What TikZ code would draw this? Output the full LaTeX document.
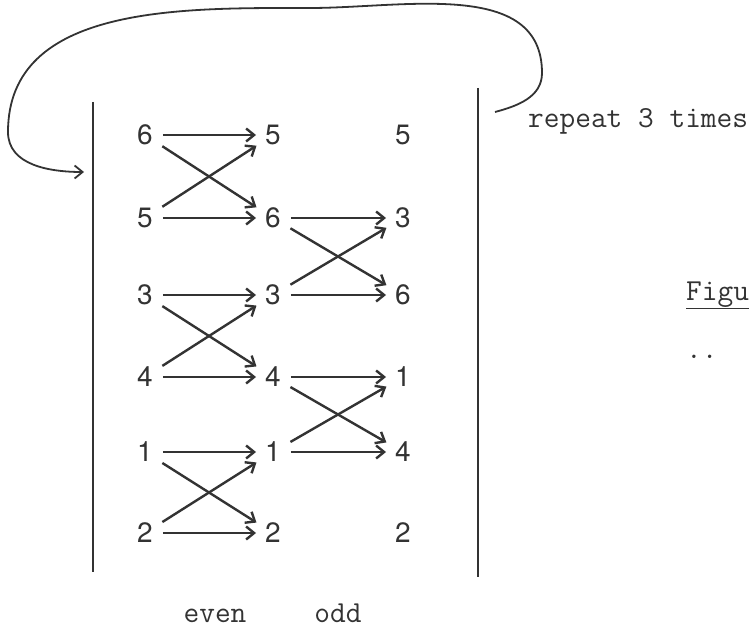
\documentclass[tikz,border=0pt]{standalone}
\usepackage{fontspec}
\newfontfamily\digitfont{TeX Gyre Heros}
\usetikzlibrary{arrows.meta}
\definecolor{InkClr}{rgb}{0.2,0.2,0.2}

\tikzset{
  num/.style={font=\fontsize{28}{32}\digitfont,text=InkClr,inner sep=6pt},
  tt/.style={font=\fontsize{30.5}{34}\ttfamily,text=InkClr,inner sep=0pt},
  swap/.style={-{Straight Barb[length=8pt,width=13pt]},line width=2.4pt,draw=InkClr,shorten <=4pt,shorten >=3pt},
  bar/.style={line width=2.4pt,draw=InkClr},
  backarc/.style={-{Straight Barb[length=8pt,width=13pt]},line width=1.8pt,draw=InkClr}
}

\begin{document}
\begin{tikzpicture}[x=1pt,y=-1pt]

\clip(0,0) rectangle (754,628);

% before the even step
\node[num] (a1) at (145,135) {6};
\node[num] (a2) at (145,218) {5};
\node[num] (a3) at (145,295) {3};
\node[num] (a4) at (145,377) {4};
\node[num] (a5) at (145,452) {1};
\node[num] (a6) at (145,533) {2};

% after the even step
\node[num] (b1) at (273,135) {5};
\node[num] (b2) at (273,218) {6};
\node[num] (b3) at (273,295) {3};
\node[num] (b4) at (273,377) {4};
\node[num] (b5) at (273,452) {1};
\node[num] (b6) at (273,533) {2};

% after the odd step
\node[num] (c1) at (403,135) {5};
\node[num] (c2) at (403,218) {3};
\node[num] (c3) at (403,295) {6};
\node[num] (c4) at (403,377) {1};
\node[num] (c5) at (403,452) {4};
\node[num] (c6) at (403,533) {2};

\draw[swap] (a1) -- (b1); \draw[swap] (a1) -- (b2); \draw[swap] (a2) -- (b1); \draw[swap] (a2) -- (b2);
\draw[swap] (a3) -- (b3); \draw[swap] (a3) -- (b4); \draw[swap] (a4) -- (b3); \draw[swap] (a4) -- (b4);
\draw[swap] (a5) -- (b5); \draw[swap] (a5) -- (b6); \draw[swap] (a6) -- (b5); \draw[swap] (a6) -- (b6);

\draw[swap] (b2) -- (c2); \draw[swap] (b2) -- (c3); \draw[swap] (b3) -- (c2); \draw[swap] (b3) -- (c3);
\draw[swap] (b4) -- (c4); \draw[swap] (b4) -- (c5); \draw[swap] (b5) -- (c4); \draw[swap] (b5) -- (c5);

\coordinate (LT) at (93,102);
\coordinate (LB) at (93,572);
\coordinate (RT) at (478,88);
\coordinate (RB) at (478,577);
\draw[bar] (LT) -- (LB);
\draw[bar] (RT) -- (RB);

\coordinate (loopS) at (495,112);
\coordinate (loopE) at (84,172);
\draw[backarc] (loopS) to[out=15,in=-90] (542,73) to[out=90,in=0] (310,8)
  to[out=180,in=90] (8,132) to[out=-90,in=180] (loopE);

\node[tt,anchor=base west] (rep) at (528,128) {repeat 3 times};
\node[tt,anchor=base] (even) at (215,622) {even};
\node[tt,anchor=base] (odd) at (338,622) {odd};
\node[tt,anchor=base west] (fig) at (686,300) {\underline{Figu}};
\node[tt,anchor=base west] (dots) at (686,358) {..};
\end{tikzpicture}
\end{document}
